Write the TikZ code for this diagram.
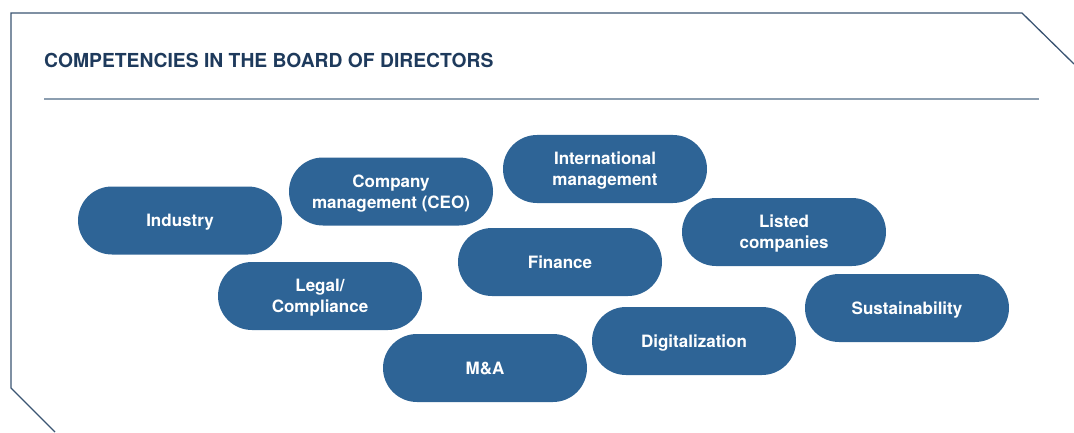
\documentclass[tikz,border=0pt]{standalone}
\usepackage{fontspec}
\setmainfont{TeX Gyre Heros}
\usepackage{xcolor}
\usepackage{tikz}
\definecolor{pillblue}{HTML}{2E6496}
\definecolor{titlenavy}{HTML}{1E3A5C}
\definecolor{framenavy}{HTML}{3A5472}
\definecolor{rulegrey}{HTML}{8C9EB0}
\tikzset{
	comp/.style={fill=pillblue,text=white,rounded corners=34pt,minimum width=204pt,minimum height=68pt,text depth=0pt,align=center,font=\fontsize{17}{21}\selectfont\bfseries},
}

\begin{document}
\begin{tikzpicture}[x=1pt,y=1pt]
		\useasboundingbox (0,0) rectangle (1074,432);
		% frame and rule
		\draw[framenavy,line width=1.3pt] (1074,368)--(1022,419)--(11,419)--(11,44)--(55,0);
		\draw[rulegrey,line width=1.6pt] (44,333)--(1039,333);
		\node[anchor=base west,inner sep=0pt,text=titlenavy,font=\fontsize{19.3}{22}\selectfont\bfseries] (title) at (44,364) {COMPETENCIES IN THE BOARD OF DIRECTORS};
		
		\node[comp] (ind) at (180,211.5) {Industry};
		\node[comp] (ceo) at (391,240.5) {Company\\management (CEO)};
		\node[comp] (legal) at (320,136) {Legal/\\Compliance};
		\node[comp] (intl) at (605,263) {International\\management};
		\node[comp] (listed) at (784,200) {Listed\\companies};
		\node[comp] (fin) at (560,170) {Finance};
		\node[comp] (sust) at (907,124) {Sustainability};
		\node[comp] (digi) at (694,91) {Digitalization};
		\node[comp] (ma) at (485,64) {M\&A};
	\end{tikzpicture}
\end{document}
